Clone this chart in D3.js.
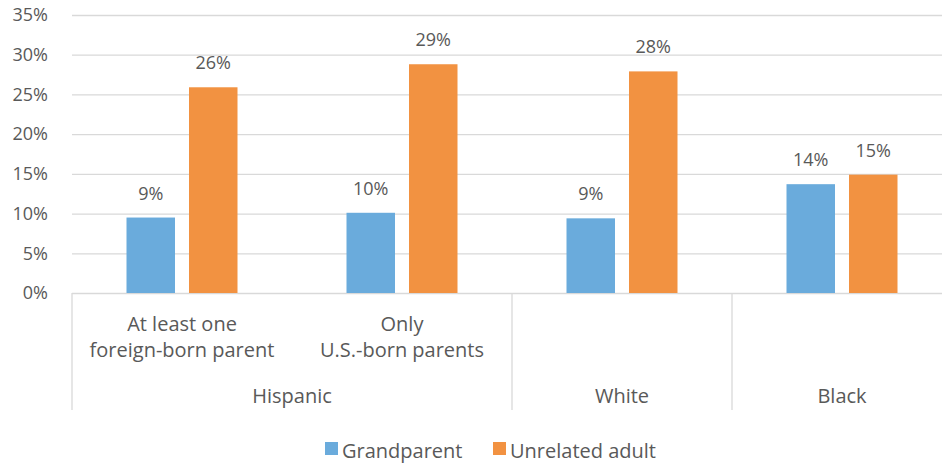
<!DOCTYPE html>
<html>
<head>
<meta charset="utf-8">
<script src="https://cdn.jsdelivr.net/npm/d3@7"></script>
<style>
  body { margin: 0; background: #fff; }
  text { font-family: "Open Sans", Lato, sans-serif; fill: #595959; }
</style>
</head>
<body>
<div class="chart"></div>
<script>
// Data
var categories = ["At least one|foreign-born parent", "Only|U.S.-born parents", "White", "Black"];
var groups = ["Hispanic", "Hispanic", "White", "Black"];
var seriesNames = ["Grandparent", "Unrelated adult"];
var grandparent = [9.5, 10.1, 9.4, 13.7];
var unrelated = [25.9, 28.8, 27.9, 14.9];
var valueLabels = [["9%", "10%", "9%", "14%"], ["26%", "29%", "28%", "15%"]];
var yTicks = [0, 5, 10, 15, 20, 25, 30, 35];
var colors = ["#6aabdc", "#f29241"];

var svgWidth = 942;
var svgHeight = 465;

var margin = { top: 15, right: -10, bottom: 172, left: 72 };
var width = svgWidth - margin.left - margin.right;
var height = svgHeight - margin.top - margin.bottom;

var svg = d3.select(".chart")
  .append("svg")
  .attr("width", svgWidth)
  .attr("height", svgHeight);

var chartGroup = svg.append("g")
  .attr("transform", `translate(${margin.left}, ${margin.top})`);

// Scales
var yScale = d3.scaleLinear().domain([0, 35]).range([height, 0]);
var x0 = d3.scaleBand().domain(d3.range(categories.length)).range([0, width]);
var x1 = d3.scaleBand().domain(d3.range(seriesNames.length))
  .range([0, x0.bandwidth()])
  .paddingInner(0.224)
  .paddingOuter(0.872);

// Gridlines + y labels
var leftAxis = d3.axisLeft(yScale)
  .tickValues(yTicks)
  .tickSize(-width)
  .tickPadding(24)
  .tickFormat(d => d + "%");

var yAxis = chartGroup.append("g").call(leftAxis);
yAxis.select(".domain").remove();
yAxis.selectAll(".tick line").attr("stroke", "#d9d9d9").attr("stroke-width", 1.3);
yAxis.selectAll(".tick text")
  .attr("font-size", "18px")
  .attr("fill", "#595959")
  .style("font-family", "'Open Sans', sans-serif");

// Category separators (vertical lines below the axis)
var sepIdx = [0, 2, 3, 4];
chartGroup.selectAll(".sep")
  .data(sepIdx)
  .enter()
  .append("line")
  .attr("x1", d => d < categories.length ? x0(d) : width)
  .attr("x2", d => d < categories.length ? x0(d) : width)
  .attr("y1", height)
  .attr("y2", height + 117)
  .attr("stroke", "#d9d9d9")
  .attr("stroke-width", 1.3);

// Bars
var allSeries = [grandparent, unrelated];
allSeries.forEach(function(vals, s) {
  chartGroup.selectAll(".bar" + s)
    .data(vals)
    .enter()
    .append("rect")
    .attr("x", (d, i) => x0(i) + x1(s))
    .attr("y", d => yScale(d))
    .attr("width", x1.bandwidth())
    .attr("height", d => height - yScale(d))
    .attr("fill", colors[s]);

  chartGroup.selectAll(".lab" + s)
    .data(vals)
    .enter()
    .append("text")
    .attr("x", (d, i) => x0(i) + x1(s) + x1.bandwidth() / 2)
    .attr("y", d => yScale(d) - 18)
    .attr("text-anchor", "middle")
    .attr("font-size", "18px")
    .text((d, i) => valueLabels[s][i]);
});

// Category labels
categories.forEach(function(c, i) {
  var lines = c.split("|");
  if (lines.length < 2) return;
  lines.forEach(function(line, j) {
    chartGroup.append("text")
      .attr("x", x0(i) + x0.bandwidth() / 2)
      .attr("y", height + 38 + j * 26)
      .attr("text-anchor", "middle")
      .attr("font-size", "20px")
      .text(line);
  });
});

// Group labels
var groupNames = Array.from(new Set(groups));
groupNames.forEach(function(g) {
  var idx = groups.map((d, i) => d === g ? i : -1).filter(i => i >= 0);
  var cx = (x0(idx[0]) + x0(idx[idx.length - 1]) + x0.bandwidth()) / 2;
  chartGroup.append("text")
    .attr("x", cx)
    .attr("y", height + 110)
    .attr("text-anchor", "middle")
    .attr("font-size", "20px")
    .text(g);
});

// Legend
var legendX = [325, 493];
var legend = svg.append("g");
seriesNames.forEach(function(name, s) {
  legend.append("rect")
    .attr("x", legendX[s])
    .attr("y", 442)
    .attr("width", 13)
    .attr("height", 13)
    .attr("fill", colors[s]);
  legend.append("text")
    .attr("x", legendX[s] + 17)
    .attr("y", 458)
    .attr("font-size", "20px")
    .text(name);
});
</script>
</body>
</html>
